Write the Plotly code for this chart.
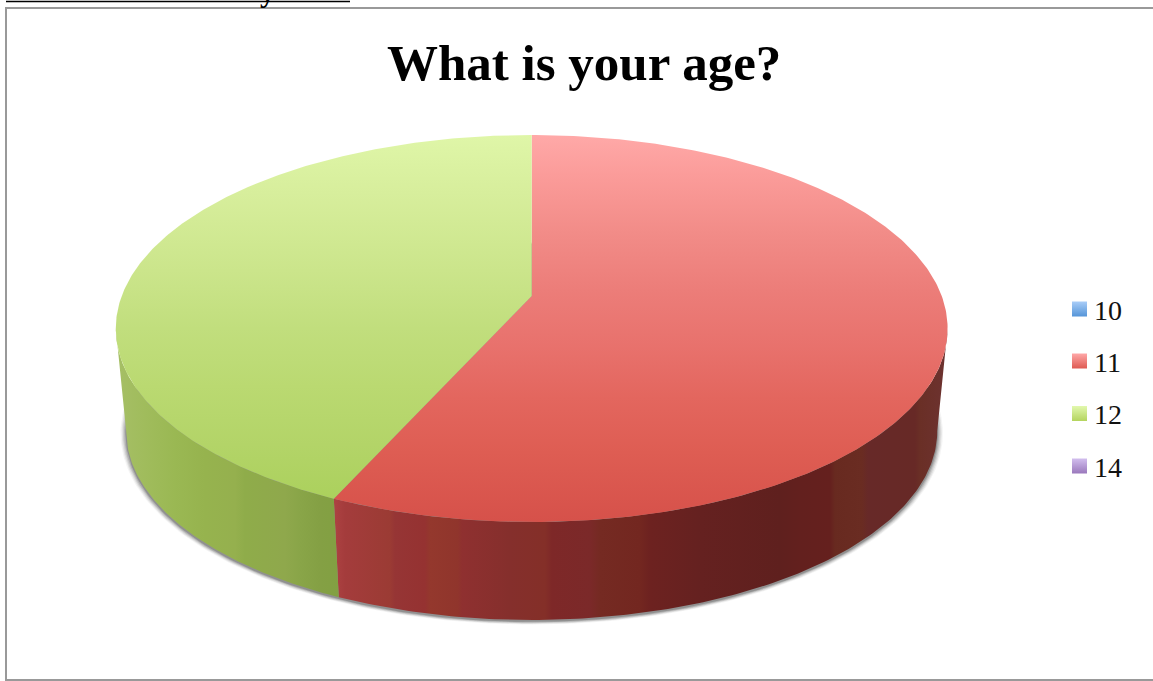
import numpy as np
import plotly.graph_objects as go

categories = ["10", "11", "12", "14"]
values = [0, 56.7, 43.3, 0]
title_text = "What is your age?"
legend_top = ["#A9CDF8", "#FFA8A8", "#E2F8AE", "#D2BEEE"]
legend_bottom = ["#5595D8", "#DE5A52", "#B4D45E", "#9A78BC"]

FONT = "Liberation Serif"
W, H = 1153, 681

# picture geometry of the tilted disc
CX, CY, A, B, P = 531.7, 296.0, 410.0, 188.0, 0.168
LOW_S, LOW_DZ = 0.975, 103.6


def rim(theta, s=1.0, dz=0.0):
    u, v = np.sin(theta), -np.cos(theta)
    k = 1 - P * v
    return CX + s * A * u / k, CY + dz + s * B * v / k


top_scales = {
    "11": [[0, "#FFA9A8"], [0.1, "#FB9C9A"], [0.25, "#F28C88"], [0.4, "#EC7D79"],
           [0.55, "#E8716C"], [0.68, "#E3665E"], [0.82, "#DE5D53"], [1, "#D6514A"]],
    "12": [[0, "#DFF6A8"], [0.15, "#D7EE9C"], [0.35, "#CBE58B"], [0.5, "#C1DE7D"],
           [0.65, "#BAD971"], [0.8, "#B3D468"], [1, "#A8CF58"]],
}
side_stops = {
    "11": [(333, "#AE4343"), (345, "#A43C3C"), (390, "#9B3B34"), (395, "#963535"), (425, "#953231"),
           (430, "#94382D"), (458, "#90352C"), (462, "#8F3030"), (510, "#852F2C"), (545, "#842F28"),
           (552, "#7E2828"), (590, "#7B2929"), (600, "#752A22"), (640, "#732720"), (650, "#6D2220"),
           (700, "#652120"), (780, "#5F201E"), (800, "#63201E"), (830, "#65201E"), (835, "#682A20"),
           (862, "#6A2C22"), (868, "#672928"), (915, "#672926"), (920, "#6A2F26"), (947, "#6D3230")],
    "12": [(116, "#A6BF66"), (145, "#A0BC5C"), (175, "#9AB853"), (205, "#96B34E"), (235, "#95B04E"),
           (245, "#8FAC4A"), (285, "#8FA84C"), (300, "#89A548"), (320, "#84A044"), (340, "#82A042")],
}

# values to angles, clockwise from twelve o'clock
total = sum(values)
edges = np.concatenate([[0], np.cumsum(values) / total * 2 * np.pi])
front_a = np.arccos(-P)
front_b = 2 * np.pi - front_a

fig = go.Figure()

# soft shadow under the disc
th = np.linspace(0, 2 * np.pi, 361)
for grow, alpha in [(1.014, 0.06), (1.011, 0.10), (1.008, 0.14), (1.005, 0.20), (1.002, 0.30)]:
    x, y = rim(th, LOW_S * grow, LOW_DZ + 1.5)
    fig.add_trace(go.Scatter(x=x, y=y, mode="lines", fill="toself", line=dict(width=0),
                             fillcolor=f"rgba(70,70,70,{alpha})", hoverinfo="skip", showlegend=False))

# side walls, then top faces
for i, cat in enumerate(categories):
    a0, a1 = edges[i], edges[i + 1]
    if a1 <= a0:
        continue
    lo, hi = max(a0, front_a), min(a1, front_b)
    if hi > lo:
        t = np.linspace(lo, hi, 160)
        x1, y1 = rim(t)
        x2, y2 = rim(t[::-1], LOW_S, LOW_DZ)
        stops = side_stops[cat]
        x0s, x1s = stops[0][0], stops[-1][0]
        scale = [[(px - x0s) / (x1s - x0s), c] for px, c in stops]
        fig.add_trace(go.Scatter(
            x=np.concatenate([x1, x2]), y=np.concatenate([y1, y2]), mode="lines", fill="toself",
            line=dict(width=0), hoverinfo="skip", showlegend=False,
            fillgradient=dict(type="horizontal", colorscale=scale, start=x0s, stop=x1s)))

for i, cat in enumerate(categories):
    a0, a1 = edges[i], edges[i + 1]
    if a1 <= a0:
        continue
    t = np.linspace(a0, a1, 300)
    x, y = rim(t)
    fig.add_trace(go.Scatter(
        x=np.concatenate([[CX], x, [CX]]), y=np.concatenate([[CY], y, [CY]]),
        mode="lines", fill="toself", line=dict(width=0), name=cat,
        hovertemplate=f"{cat}: {values[i]}<extra></extra>", showlegend=False,
        fillgradient=dict(type="vertical", colorscale=top_scales[cat], start=135, stop=522)))

# legend
LEG_Y = [310, 362, 414.5, 467]
for cat, ly, c0, c1 in zip(categories, LEG_Y, legend_top, legend_bottom):
    fig.add_trace(go.Scatter(
        x=[1079.5], y=[ly - 1], mode="markers", hoverinfo="skip", showlegend=False,
        marker=dict(symbol="square", size=15, color=c0, line=dict(width=0),
                    gradient=dict(type="vertical", color=c1))))
    fig.add_annotation(x=1091.5, y=ly, text=cat, showarrow=False, xanchor="left", yanchor="middle",
                       font=dict(family=FONT, size=28, color="#111111"))

fig.add_annotation(x=583.5, y=63, text=f"<b>{title_text}</b>", showarrow=False,
                   xanchor="center", yanchor="middle",
                   font=dict(family=FONT, size=51, color="#000000"))
# clipped letter and rule of the page heading above the chart
fig.add_annotation(x=267, y=0, yshift=-10, text="<b>y</b>", showarrow=False, xanchor="center", yanchor="bottom",
                   font=dict(family=FONT, size=30, color="#000000"))

fig.update_layout(
    width=W, height=H, margin=dict(l=0, r=0, t=0, b=0),
    paper_bgcolor="white", plot_bgcolor="white", showlegend=False,
    xaxis=dict(range=[0, W], visible=False, fixedrange=True),
    yaxis=dict(range=[H, 0], visible=False, fixedrange=True),
    shapes=[
        dict(type="rect", x0=6, y0=8, x1=1170, y1=680, line=dict(color="#999999", width=2), layer="below"),
        dict(type="line", x0=6, x1=350, y0=1.5, y1=1.5, line=dict(color="#000000", width=1.6), layer="above"),
    ],
)

fig.write_html("out.html", config={"displayModeBar": False},
               post_script="document.body.style.margin='0';document.body.style.overflow='hidden';window.dispatchEvent(new Event('resize'));")
